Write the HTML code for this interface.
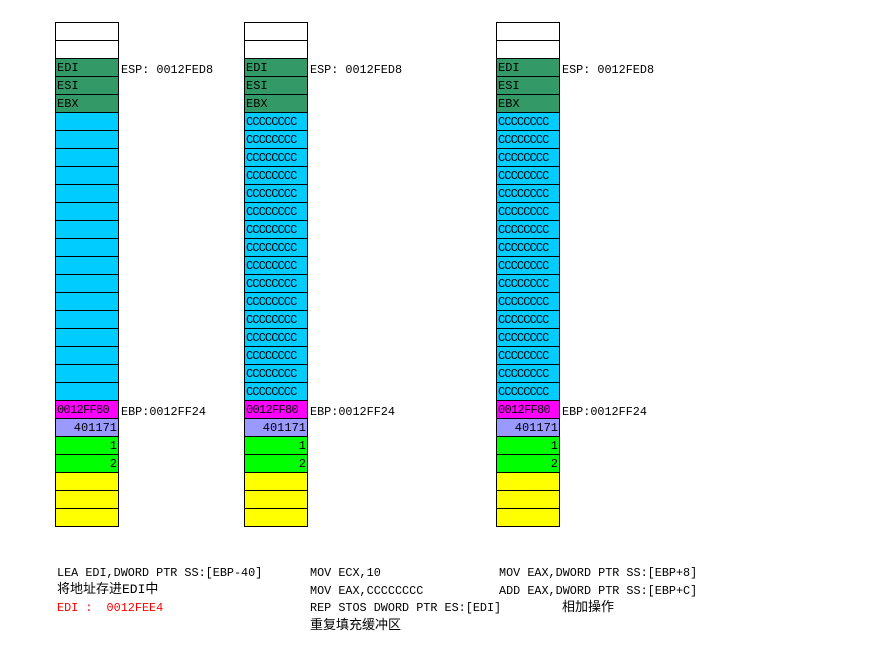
<!DOCTYPE html>
<html><head><meta charset="utf-8"><style>
body{margin:0;width:877px;height:661px;background:#fff;position:relative;overflow:hidden;font-family:"Liberation Mono","Noto Sans CJK SC",monospace;font-size:11.8px;color:#000}
.c{position:absolute;box-sizing:border-box;border:1px solid #000;height:19px;line-height:19px;padding:0 1px;white-space:nowrap;overflow:hidden;font-size:12px}
.t{position:absolute;white-space:pre;line-height:14px}
</style></head><body>
<script>
const cols=[55,244,496];
const kinds=['w','w','EDI','ESI','EBX'];
for(let i=0;i<16;i++)kinds.push('c');
kinds.push('m','l','g1','g2','y','y','y');
const colors={w:'#fff',EDI:'#339966',ESI:'#339966',EBX:'#339966',c:'#00CCFF',m:'#FF00FF',l:'#9999FF',g1:'#00FF00',g2:'#00FF00',y:'#FFFF00'};
cols.forEach((x,ci)=>{
  kinds.forEach((k,ri)=>{
    const d=document.createElement('div');
    d.className='c';
    
    
    d.style.left=x+'px';d.style.top=(22+ri*18)+'px';d.style.width='64px';
    d.style.background=colors[k];
    let txt='';
    if(k==='EDI'||k==='ESI'||k==='EBX')txt=k;
    else if(k==='c'&&ci>0){txt='CCCCCCCC';d.style.letterSpacing='-0.9px';}
    else if(k==='m'){txt='0012FF80';d.style.letterSpacing='-0.7px';}
    else if(k==='l'){txt='401171';d.style.textAlign='right';}
    else if(k==='g1'){txt='1';d.style.textAlign='right';}
    else if(k==='g2'){txt='2';d.style.textAlign='right';}
    d.textContent=txt;
    document.body.appendChild(d);
  });
  const e=document.createElement('div');e.className='t';
  
  
  e.style.left=(x+66)+'px';e.style.top='63px';e.textContent='ESP: 0012FED8';
  document.body.appendChild(e);
  const b=document.createElement('div');b.className='t';
  
  
  b.style.left=(x+66)+'px';b.style.top='405px';b.textContent='EBP:0012FF24';
  document.body.appendChild(b);
});
</script>
<div class="t" style="left:57px;top:566px">LEA EDI,DWORD PTR SS:[EBP-40]</div>
<div class="t" style="left:57px;top:583px;font-size:13px">将地址存进EDI中</div>
<div class="t" style="left:57px;top:601px;color:#f00">EDI :  0012FEE4</div>
<div class="t" style="left:310px;top:566px">MOV ECX,10</div>
<div class="t" style="left:310px;top:584px">MOV EAX,CCCCCCCC</div>
<div class="t" style="left:310px;top:601px">REP STOS DWORD PTR ES:[EDI]</div>
<div class="t" style="left:310px;top:619px;font-size:13px">重复填充缓冲区</div>
<div class="t" style="left:499px;top:566px">MOV EAX,DWORD PTR SS:[EBP+8]</div>
<div class="t" style="left:499px;top:584px">ADD EAX,DWORD PTR SS:[EBP+C]</div>
<div class="t" style="left:562px;top:601px;font-size:13px">相加操作</div>
</body></html>
